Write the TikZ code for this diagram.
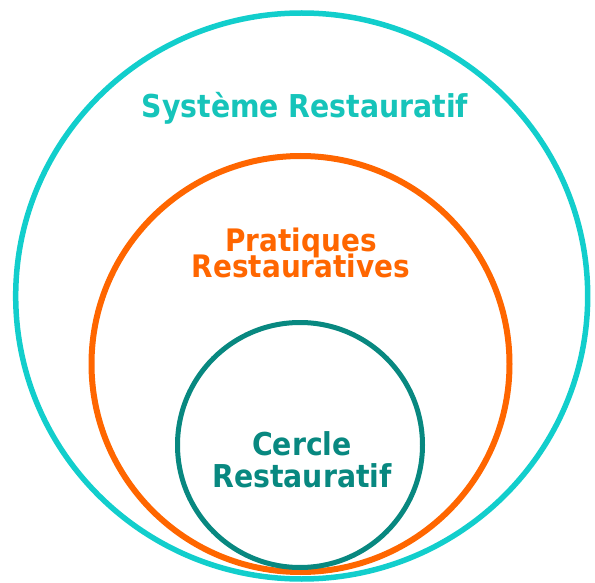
\documentclass[tikz,border=0pt]{standalone}
\usepackage{fontspec}
\usetikzlibrary{shapes.geometric}
\setmainfont{DejaVu Sans Condensed}
\definecolor{ringcyan}{RGB}{18,206,204}
\definecolor{textcyan}{RGB}{22,196,186}
\definecolor{ringorange}{RGB}{255,102,0}
\definecolor{ringteal}{RGB}{8,136,128}
\newcommand\tightlines{\lineskiplimit=-50pt\relax}
\tikzset{
  ring/.style={ellipse, draw, line width=5.5pt, inner sep=0pt},
  ringlabel/.style={align=center, inner sep=0pt, font=\bfseries\fontsize{31.5}{32}\selectfont\tightlines}
}
\begin{document}
\begin{tikzpicture}[x=1pt, y=-1pt]
        \useasboundingbox (0, 0) rectangle (595, 583);
        % three nested circles
        \node[ring, draw=ringcyan, minimum width=572pt, minimum height=566pt] (systeme) at (301.7, 296) {};
        \node[ring, draw=ringorange, line width=6pt, minimum width=418pt, minimum height=416pt] (pratiques) at (300.5, 364) {};
        \node[ring, draw=ringteal, line width=5pt, minimum size=245pt] (cercle) at (300, 445) {};
        % labels
        \node[ringlabel, text=textcyan] (systemelabel) at (305, 108) {Système Restauratif};
        \node[ringlabel, text=ringorange, font=\bfseries\fontsize{31}{26}\selectfont\tightlines] (pratiqueslabel) at (301, 253) {Pratiques\\Restauratives};
        \node[ringlabel, text=ringteal] (cerclelabel) at (302, 460) {Cercle\\Restauratif};
    \end{tikzpicture}
\end{document}
